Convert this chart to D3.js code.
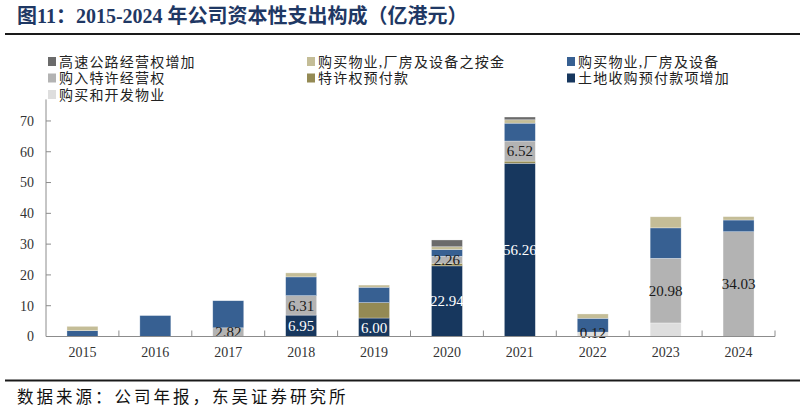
<!DOCTYPE html>
<html><head><meta charset="utf-8">
<script src="https://cdn.jsdelivr.net/npm/d3@7/dist/d3.min.js"></script>
<style>body{margin:0;background:#fff}svg{display:block}</style>
</head><body>
<svg id="c" width="805" height="413"></svg>
<script>
const years = ["2015","2016","2017","2018","2019","2020","2021","2022","2023","2024"];
const seriesNames = ["购买和开发物业","土地收购预付款项增加","特许权预付款","购入特许经营权","购买物业,厂房及设备","购买物业,厂房及设备之按金","高速公路经营权增加"];
const kaifa     = [0,0,0,0,0,0,0,1.3,4.4,0];
const land      = [0,0,0,6.95,6.00,22.94,56.26,0,0,0];
const tequanPre = [0,0,0,0,5.0,0.85,0.7,0,0,0];
const tequan    = [0,0,2.82,6.31,0,2.26,6.52,0.12,20.98,34.03];
const ppe       = [1.9,6.8,8.8,6.1,5.0,2.2,5.8,4.5,9.9,3.8];
const deposit   = [1.4,0,0,1.3,0.7,0.9,1.1,1.4,3.6,1.1];
const highway   = [0,0,0,0,0,2.2,0.9,0,0,0];
const yTicks = [0,10,20,30,40,50,60,70];
const seriesValues = [kaifa,land,tequanPre,tequan,ppe,deposit,highway];
const colors = ["#dedede","#17375e","#948a54","#b3b3b3","#376092","#c4bd97","#6b6b6b"];
const labelSeries = {1:"#ffffff",3:"#1a1a1a"};
const legendOrder = [
  [6,0,0],[5,1,0],[4,2,0],
  [3,0,1],[2,1,1],[1,2,1],
  [0,0,2]
];

const svg = d3.select("#c");
const serif = "'Liberation Serif','Times New Roman',serif";
const cjk = "'Liberation Serif','Noto Sans CJK SC',serif";

// title
svg.append("text").attr("x",17).attr("y",23).attr("font-family",cjk)
  .attr("font-weight","bold").attr("font-size",20).attr("fill","#1f3864")
  .text("图11：2015-2024 年公司资本性支出构成（亿港元）");
svg.append("line").attr("x1",5).attr("x2",800).attr("y1",34).attr("y2",34)
  .attr("stroke","#1a1a1a").attr("stroke-width",2.2);
// footer
svg.append("line").attr("x1",5).attr("x2",800).attr("y1",380.5).attr("y2",380.5)
  .attr("stroke","#1a1a1a").attr("stroke-width",2.2);
svg.append("text").attr("x",17).attr("y",403).attr("font-family","'Noto Sans CJK SC',sans-serif")
  .attr("font-size",16.5).attr("letter-spacing",3).attr("fill","#111")
  .text("数据来源：公司年报，东吴证券研究所");

// scales
const x = d3.scaleBand().domain(years).range([46,775]).paddingInner(0.575).paddingOuter(0.2875);
const y = d3.scaleLinear().domain([0,77]).range([336.5,99.4]);

const table = years.map((yr,i)=>{const o={year:yr}; seriesNames.forEach((s,k)=>o[s]=seriesValues[k][i]); return o;});
const stack = d3.stack().keys(seriesNames)(table);

const g = svg.append("g");
stack.forEach((layer,k)=>{
  g.selectAll(null).data(layer.filter(d=>d[1]-d[0]>0)).enter().append("rect")
    .attr("x",d=>x(d.data.year)).attr("width",x.bandwidth())
    .attr("y",d=>y(d[1])).attr("height",d=>y(d[0])-y(d[1]))
    .attr("fill",colors[k]).attr("stroke","#ffffff").attr("stroke-opacity",0.5).attr("stroke-width",0.6);
});
// labels
stack.forEach((layer,k)=>{
  if(!(k in labelSeries)) return;
  g.selectAll(null).data(layer.filter(d=>d[1]-d[0]>0)).enter().append("text")
    .attr("x",d=>x(d.data.year)+x.bandwidth()/2).attr("y",d=>y((d[0]+d[1])/2))
    .attr("dy","0.35em").attr("text-anchor","middle").attr("font-family",serif)
    .attr("font-size",15).attr("fill",labelSeries[k])
    .text(d=>d3.format(".2f")(d[1]-d[0]));
});

// axes
const axisColor = "#8c8c8c";
svg.append("line").attr("x1",46).attr("x2",46).attr("y1",y(77)).attr("y2",y(0)).attr("stroke",axisColor);
svg.append("line").attr("x1",46).attr("x2",775).attr("y1",y(0)).attr("y2",y(0)).attr("stroke",axisColor);
yTicks.forEach(t=>{
  svg.append("line").attr("x1",46).attr("x2",51).attr("y1",y(t)).attr("y2",y(t)).attr("stroke",axisColor);
  svg.append("text").attr("x",34).attr("y",y(t)).attr("dy","0.35em").attr("text-anchor","end")
    .attr("font-family",serif).attr("font-size",14).attr("fill","#333").text(t);
});
const step = x.step();
years.forEach((yr,i)=>{
  const bx = 46 + step*(i+1);
  svg.append("line").attr("x1",bx).attr("x2",bx).attr("y1",y(0)).attr("y2",y(0)-6).attr("stroke",axisColor);
  svg.append("text").attr("x",x(yr)+x.bandwidth()/2).attr("y",357).attr("text-anchor","middle")
    .attr("font-family",serif).attr("font-size",14).attr("fill","#333").text(yr);
});

// legend
const colX = [48,307,567], rowY = [61.5,78,94.5];
legendOrder.forEach(([k,c,r])=>{
  svg.append("rect").attr("x",colX[c]).attr("y",rowY[r]-4.5).attr("width",8).attr("height",9).attr("fill",colors[k]);
  svg.append("text").attr("x",colX[c]+11).attr("y",rowY[r]).attr("dy","0.36em")
    .attr("font-family","'Liberation Serif','Noto Sans CJK SC',sans-serif").attr("font-size",14).attr("letter-spacing",1.2).attr("fill","#222")
    .text(seriesNames[k]);
});
</script>
</body></html>
